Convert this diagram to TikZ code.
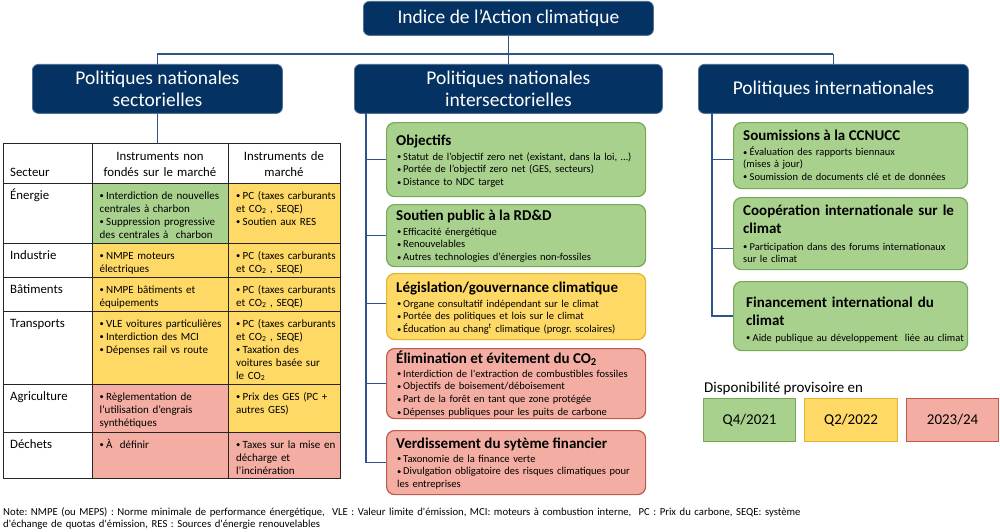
\documentclass[tikz,border=0pt]{standalone}
\usepackage{fontspec}
\setmainfont{Carlito}
\frenchspacing
\newcommand\fs[2]{\fontsize{#1pt}{#2pt}\selectfont}
\newcommand\sq{\textquotesingle}
\newcommand\bulmark{\raisebox{0.4pt}{\fs{8.5}{8.5}\textbullet}}
% first bullet item of a list (hanging indent = bullet column width)
\newcommand\bi[1][6pt]{\hangindent=#1\hangafter=1\makebox[#1][l]{\bulmark}}
% following bullet items
\newcommand\bn[1][6pt]{\par\hangindent=#1\hangafter=1\noindent\makebox[#1][l]{\bulmark}}
\definecolor{navy}{RGB}{4,50,98}
\definecolor{linkblue}{RGB}{46,84,140}
\definecolor{gfill}{RGB}{169,209,142}
\definecolor{gline}{RGB}{118,168,86}
\definecolor{yfill}{RGB}{255,217,102}
\definecolor{yline}{RGB}{224,180,44}
\definecolor{pfill}{RGB}{243,173,162}
\definecolor{pline}{RGB}{188,92,78}
\begin{document}
\begin{tikzpicture}[x=1pt,y=-1pt,
  hdr/.style={fill=navy, draw=navy!70, line width=0.8pt, rounded corners=6pt, text=white,
    align=center, inner sep=0pt, anchor=north west, font=\fs{19.5}{22}},
  conn/.style={draw=linkblue, line width=1.4pt},
  rbox/.style={rounded corners=8pt, line width=1.2pt, inner sep=0pt, anchor=north west},
  gbox/.style={rbox, fill=gfill, draw=gline},
  ybox/.style={rbox, fill=yfill, draw=yline},
  pbox/.style={rbox, fill=pfill, draw=pline},
  lgbox/.style={line width=1.2pt, inner sep=0pt, anchor=north west, font=\fs{15}{18}},
  txt/.style={inner sep=0pt, anchor=base west, align=left},
  ttl/.style={txt, font=\bfseries\fs{15}{18}},
  ttlw/.style={ttl, text width=230pt},
  blist/.style={txt, text width=250pt, font=\fs{10.55}{12.8}},
  rlist/.style={txt, text width=225pt, font=\fs{10.5}{12.3}},
  lbl/.style={txt, font=\fs{12.8}{15}},
  hd/.style={inner sep=0pt, anchor=base, align=center, text width=132pt, font=\fs{12.8}{16}},
  c2/.style={txt, text width=126pt, font=\fs{11}{13}},
  c3/.style={txt, text width=104pt, font=\fs{11}{13}},
  grid/.style={draw=black!85, line width=1pt}
]
\fill[white] (0,0) rectangle (1000,532);
\useasboundingbox (0,0) rectangle (1000,532);

% ---- top level and the three branches
\node[hdr, minimum width=290pt, minimum height=34pt] (idx) at (363,1) {Indice de l’Action climatique};
\node[hdr, minimum width=250pt, minimum height=49pt] (sect) at (32,64) {Politiques nationales\\sectorielles};
\node[hdr, minimum width=308pt, minimum height=49pt] (nat) at (354,64) {Politiques nationales\\intersectorielles};
\node[hdr, minimum width=270pt, minimum height=49pt] (intl) at (698,64) {Politiques internationales};

\coordinate (bus) at (0,54);
\draw[conn] (idx.south) -- (idx.south |- bus);
\draw[conn] (sect.north |- bus) -- (intl.north |- bus);
\draw[conn] (sect.north) -- (sect.north |- bus);
\draw[conn] (nat.north) -- (nat.north |- bus);
\draw[conn] (intl.north) -- (intl.north |- bus);

% ---- sectoral table
\fill[gfill] (92,183) rectangle (228,243);
\fill[yfill] (228,183) rectangle (340,243);
\fill[yfill] (92,243) rectangle (340,384);
\fill[pfill] (92,384) rectangle (228,432);
\fill[yfill] (228,384) rectangle (340,432);
\fill[pfill] (92,432) rectangle (340,478);
\foreach \yy in {183,243,277,311,384,432} \draw[grid] (3,\yy) -- (340,\yy);
\foreach \xx in {92,228} \draw[grid] (\xx,143) -- (\xx,478);
\node[draw=black!85, line width=1.4pt, minimum width=337pt, minimum height=335pt,
  inner sep=0pt, anchor=north west] (tbl) at (3,143) {};
\draw[conn] (sect.south) -- (sect.south |- tbl.north);

\node[lbl] (t-sec) at (10,176) {Secteur};
\node[hd] (t-h2) at (160,160) {Instruments non\\fondés sur le marché};
\node[hd] (t-h3) at (284,160) {Instruments de\\marché};

\node[lbl] (r-ene) at (10,199) {Énergie};
\node[c2] (r-ene-a) at (99.5,199) {\bi[6.5pt]Interdiction de nouvelles\\centrales à charbon\bn[6.5pt]Suppression progressive\\des centrales à~ charbon};
\node[c3] (r-ene-b) at (236,199) {\bi[6.5pt]PC (taxes carburants\\et CO\textsubscript{2} , SEQE)\bn[6.5pt]Soutien aux RES};

\node[lbl] (r-ind) at (10,259) {Industrie};
\node[c2] (r-ind-a) at (99.5,259) {\bi[6.5pt]NMPE moteurs\\électriques};
\node[c3] (r-ind-b) at (236,259) {\bi[6.5pt]PC (taxes carburants\\et CO\textsubscript{2} , SEQE)};

\node[lbl] (r-bat) at (10,293) {Bâtiments};
\node[c2] (r-bat-a) at (99.5,293) {\bi[6.5pt]NMPE bâtiments et\\équipements};
\node[c3] (r-bat-b) at (236,293) {\bi[6.5pt]PC (taxes carburants\\et CO\textsubscript{2} , SEQE)};

\node[lbl] (r-tra) at (10,327) {Transports};
\node[c2] (r-tra-a) at (99.5,327) {\bi[6.5pt]VLE voitures particulières\bn[6.5pt]Interdiction des MCI\bn[6.5pt]Dépenses rail vs route};
\node[c3] (r-tra-b) at (236,327) {\bi[6.5pt]PC (taxes carburants\\et CO\textsubscript{2} , SEQE)\bn[6.5pt]Taxation des\\voitures basée sur\\le CO\textsubscript{2}};

\node[lbl] (r-agr) at (10,400) {Agriculture};
\node[c2] (r-agr-a) at (99.5,400) {\bi[6.5pt]Règlementation de\\l’utilisation d’engrais\\synthétiques};
\node[c3] (r-agr-b) at (236,400) {\bi[6.5pt]Prix des GES (PC +\\autres GES)};

\node[lbl] (r-dec) at (10,448) {Déchets};
\node[c2] (r-dec-a) at (99.5,448) {\bi[6.5pt]À~ définir};
\node[c3] (r-dec-b) at (236,448) {\bi[6.5pt]Taxes sur la mise en\\décharge et\\l’incinération};

% ---- cross-sectoral boxes
\node[gbox, minimum width=259pt, minimum height=74pt] (obj) at (386,122) {};
\node[gbox, minimum width=259pt, minimum height=62pt] (rdd) at (386,204) {};
\node[ybox, minimum width=259pt, minimum height=66pt] (gov) at (386,273) {};
\node[pbox, minimum width=259pt, minimum height=70pt] (elim) at (386,348) {};
\node[pbox, minimum width=259pt, minimum height=64pt] (verd) at (386,430) {};

\coordinate (mspine) at (366,113);
\draw[conn] (mspine) |- (obj.west);
\draw[conn] (mspine) |- (rdd.west);
\draw[conn] (mspine) |- ([yshift=3pt]gov.west);
\draw[conn] (mspine) |- (elim.west);
\draw[conn] (mspine) |- (verd.west);

\node[ttl] (obj-h) at (396,145) {Objectifs};
\node[blist] (obj-b) at (397,160) {\bi Statut de l’objectif zero net (existant, dans la loi, …)\bn Portée de l’objectif zero net (GES, secteurs)\bn Distance to NDC target};
\node[ttl] (rdd-h) at (396,220) {Soutien public à la RD\&D};
\node[blist] (rdd-b) at (397,235) {\bi Efficacité énergétique\bn Renouvelables\bn Autres technologies d’énergies non-fossiles};
\node[ttl] (gov-h) at (396,292) {Législation/gouvernance climatique};
\node[blist] (gov-b) at (397,307) {\bi Organe consultatif indépendant sur le climat\bn Portée des politiques et lois sur le climat\bn Éducation au chang\textsuperscript{t} climatique (progr. scolaires)};
\node[ttl] (elim-h) at (396,363) {Élimination et évitement du CO\textsubscript{2}};
\node[blist] (elim-b) at (397,377) {\bi Interdiction de l\sq extraction de combustibles fossiles\bn Objectifs de boisement/déboisement\bn Part de la forêt en tant que zone protégée\bn Dépenses publiques pour les puits de carbone};
\node[ttl] (verd-h) at (396,448) {Verdissement du sytème financier};
\node[blist] (verd-b) at (397,462) {\bi Taxonomie de la finance verte\bn Divulgation obligatoire des risques climatiques pour\\les entreprises};

% ---- international boxes
\node[gbox, minimum width=234pt, minimum height=66pt] (subm) at (733,122) {};
\node[gbox, minimum width=234pt, minimum height=72pt] (coop) at (733,197) {};
\node[gbox, minimum width=234pt, minimum height=69pt] (fin) at (733,281) {};

\coordinate (rspine) at (712,113);
\draw[conn] (rspine) |- ([yshift=-4pt]subm.west);
\draw[conn] (rspine) |- ([yshift=-15pt]coop.west);
\draw[conn] (rspine) |- (fin.west);

\node[ttl] (subm-h) at (743,140) {Soumissions à la CCNUCC};
\node[rlist] (subm-b) at (743,155.5) {\bi[6.5pt]Évaluation des rapports biennaux\\(mises à jour)\bn[6.5pt]Soumission de documents clé et de données};
\node[ttlw] (coop-h) at (743,215) {Coopération internationale sur le\\climat};
\node[rlist] (coop-b) at (743,250) {\bi[6.5pt]Participation dans des forums internationaux\\sur le climat};
\node[ttlw] (fin-h) at (746,307) {Financement international du\\climat};
\node[rlist] (fin-b) at (746,341) {\bi[6.5pt]Aide publique au développement~ liée au climat};

% ---- availability legend
\node[txt, font=\fs{15}{18}] (lg-t) at (704,392) {Disponibilité provisoire en};
\node[lgbox, fill=gfill, draw=gline, minimum width=92pt, minimum height=43pt] (lg-a) at (703,398) {Q4/2021};
\node[lgbox, fill=yfill, draw=yline, minimum width=93pt, minimum height=43pt] (lg-b) at (804,398) {Q2/2022};
\node[lgbox, fill=pfill, draw=pline, minimum width=92pt, minimum height=43pt] (lg-c) at (906,398) {2023/24};

% ---- footnote
\node[txt, text width=990pt, font=\fs{10.7}{11.5}] (note) at (3,515.5) {Note: NMPE (ou MEPS) : Norme minimale de performance énergétique,~ VLE : Valeur limite d\sq émission, MCI: moteurs à combustion interne,~ PC : Prix du carbone, SEQE: système\\d\sq échange de quotas d\sq émission, RES : Sources d\sq énergie renouvelables};
\end{tikzpicture}
\end{document}
